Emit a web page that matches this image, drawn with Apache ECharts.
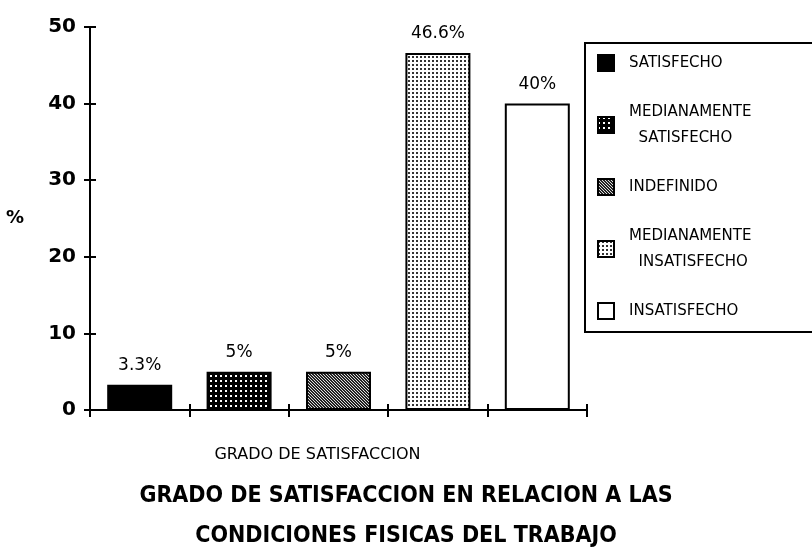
<!DOCTYPE html>
<html>
<head>
<meta charset="utf-8">
<script src="https://cdn.jsdelivr.net/npm/echarts@6/dist/echarts.min.js"></script>
<style>
  html, body { margin: 0; padding: 0; background: #fff; }
  #grafico { width: 812px; height: 548px; }
</style>
</head>
<body>
<div id="grafico"></div>
<script>
// datos
var categorias = ["SATISFECHO", "MEDIANAMENTE SATISFECHO", "INDEFINIDO", "MEDIANAMENTE INSATISFECHO", "INSATISFECHO"];
var valores = [3.3, 5, 5, 46.6, 40];
var etiquetas = ["3.3%", "5%", "5%", "46.6%", "40%"];
var textoLeyenda = ["SATISFECHO", "MEDIANAMENTE\n  SATISFECHO", "INDEFINIDO", "MEDIANAMENTE\n  INSATISFECHO", "INSATISFECHO"];

// tramas de relleno (puntos, rayado)
function trama(fondo, tinta, paso, tipo) {
  var c = document.createElement("canvas");
  c.width = paso; c.height = paso;
  var g = c.getContext("2d");
  g.fillStyle = fondo;
  g.fillRect(0, 0, paso, paso);
  g.fillStyle = tinta;
  if (tipo === "punto") {
    g.fillRect(0, 0, 2, 2);
  } else {
    // rayado ruidoso
    for (var i = 0; i < paso; i++) {
      g.fillRect(i, i, 1, 1);
      g.fillRect((i + 3) % paso, i, 1, 1);
    }
  }
  return { image: c, repeat: "repeat" };
}

var rellenos = [
  "#000",
  trama("#000", "#fff", 5, "punto"),
  trama("#222", "#ddd", 6, "raya"),
  trama("#fff", "#333", 4, "punto"),
  "#fff"
];

var myChart = echarts.init(document.getElementById("grafico"));

var fuente = "DejaVu Sans";

var series = categorias.map(function (nombre, i) {
  return {
    name: nombre,
    type: "bar",
    barWidth: 65,
    barGap: "-100%",
    data: categorias.map(function (c, j) { return j === i ? valores[i] : "-"; }),
    itemStyle: { color: rellenos[i], borderColor: "#000", borderWidth: 2 },
    label: {
      show: true,
      position: "top",
      distance: 11,
      formatter: function () { return etiquetas[i]; },
      color: "#000",
      fontFamily: fuente,
      fontSize: 17
    },
    emphasis: { disabled: true }
  };
});

var Option = {
  animation: false,
  backgroundColor: "#fff",
  title: {
    text: "GRADO DE SATISFACCION EN RELACION A LAS\nCONDICIONES FISICAS DEL TRABAJO",
    left: "center",
    top: 471,
    textStyle: {
      color: "#000",
      fontFamily: "'DejaVu Sans Condensed', 'DejaVu Sans'",
      fontWeight: "bold",
      fontSize: 23,
      lineHeight: 40
    }
  },
  legend: {
    orient: "vertical",
    left: 585,
    top: 43,
    padding: [7, 90, 8, 12],
    itemGap: 23,
    itemWidth: 16,
    itemHeight: 16,
    icon: "rect",
    borderColor: "#000",
    borderWidth: 2,
    data: categorias,
    formatter: function (n) { return textoLeyenda[categorias.indexOf(n)]; },
    textStyle: { color: "#000", fontFamily: fuente, fontSize: 15, lineHeight: 26, padding: [0, 0, 0, 10] },
    selectedMode: false
  },
  grid: { left: 90, right: 225, top: 27, bottom: 138 },
  xAxis: [
    {
      type: "category",
      data: categorias,
      name: "GRADO DE SATISFACCION",
      nameLocation: "middle",
      nameGap: 37,
      nameTextStyle: { color: "#000", fontFamily: fuente, fontSize: 16, padding: [0, 42, 0, 0] },
      axisLine: { lineStyle: { color: "#000", width: 2 } },
      axisTick: { show: true, interval: 0, length: 7, lineStyle: { color: "#000", width: 2 } },
      axisLabel: { show: false }
    },
    {
      type: "category",
      data: categorias,
      position: "bottom",
      axisLine: { show: false },
      axisTick: { show: true, interval: 0, inside: true, length: 6, lineStyle: { color: "#000", width: 2 } },
      axisLabel: { show: false }
    }
  ],
  yAxis: [
    {
      type: "value",
      min: 0,
      max: 50,
      interval: 10,
      name: "%",
      nameLocation: "middle",
      nameGap: 66,
      nameRotate: 0,
      nameTextStyle: { color: "#000", fontFamily: fuente, fontSize: 18, fontWeight: "bold" },
      axisLine: { show: true, lineStyle: { color: "#000", width: 2 } },
      axisTick: { show: true, length: 6, lineStyle: { color: "#000", width: 2 } },
      axisLabel: { color: "#000", fontFamily: fuente, fontSize: 20, fontWeight: "bold", margin: 14 },
      splitLine: { show: false }
    },
    {
      type: "value",
      min: 0,
      max: 50,
      interval: 10,
      position: "left",
      axisLine: { show: false },
      axisTick: { show: true, inside: true, length: 6, lineStyle: { color: "#000", width: 2 } },
      axisLabel: { show: false },
      splitLine: { show: false }
    }
  ],
  series: series
};

myChart.setOption(Option);
</script>
</body>
</html>
